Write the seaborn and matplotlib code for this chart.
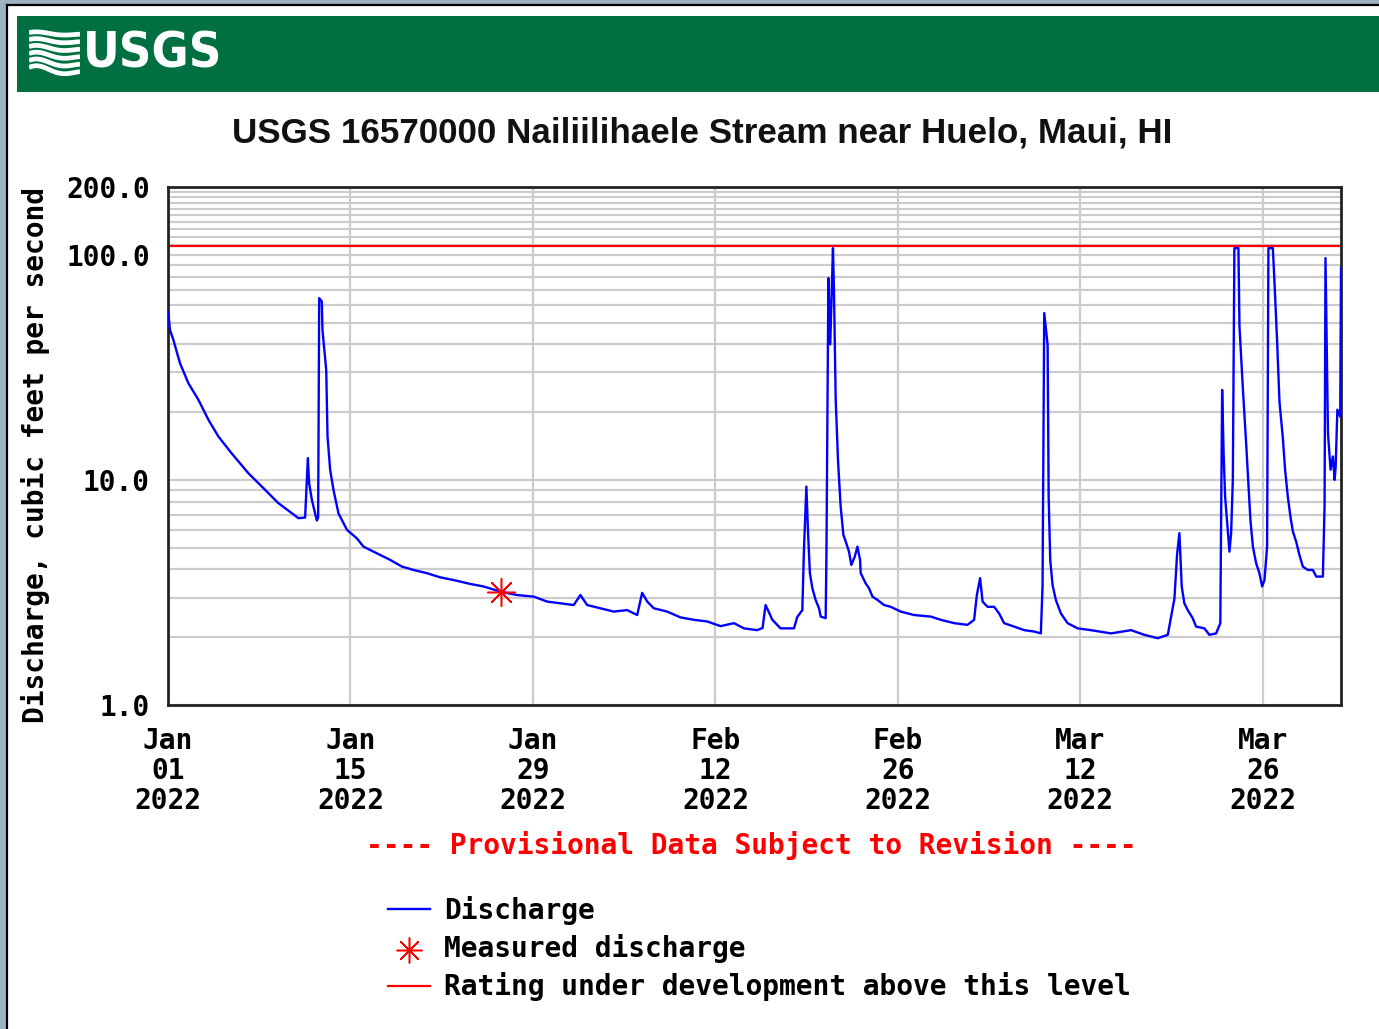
import numpy as np
import pandas as pd
import matplotlib
matplotlib.use("Agg")
import matplotlib.pyplot as plt
from matplotlib import font_manager
from matplotlib.font_manager import FontProperties
from matplotlib.patches import Rectangle
from matplotlib.lines import Line2D
from matplotlib.ticker import FixedLocator, NullFormatter
import seaborn as sns

# ---------------------------------------------------------------- data
# Instantaneous discharge, days after 2022-01-01 00:00 and cubic feet per second
day_offset = [
    0.02, 0.15, 0.41, 0.92, 1.56, 2.33, 3.10, 3.86, 4.89, 6.17, 7.20, 8.47, 10.01, 10.52,
    10.73, 10.83, 11.04, 11.29, 11.42, 11.52, 11.60, 11.80, 11.85, 12.14, 12.24, 12.44,
    12.70, 13.08, 13.73, 14.49, 15.00, 16.03, 17.05, 17.95, 18.84, 19.87, 20.89, 21.91,
    23.19, 24.22, 25.50, 26.78, 28.06, 29.09, 30.11, 31.13, 31.64, 32.16, 33.18, 34.20,
    35.23, 36.00, 36.38, 36.77, 37.27, 38.30, 39.32, 40.35, 41.37, 42.40, 43.42, 44.19,
    45.21, 45.62, 45.85, 46.37, 47.00, 48.03, 48.28, 48.67, 48.79, 48.98, 49.10, 49.25,
    49.44, 49.69, 49.95, 50.08, 50.46, 50.52, 50.67, 50.81, 51.02, 51.10, 51.23, 51.41,
    51.61, 51.82, 52.00, 52.25, 52.43, 52.69, 52.90, 53.10, 53.15, 53.53, 53.79, 54.05,
    54.43, 54.94, 55.45, 55.97, 56.22, 57.24, 58.53, 59.29, 60.32, 61.34, 61.85, 62.06,
    62.31, 62.50, 62.88, 63.39, 63.77, 64.15, 64.92, 65.69, 66.46, 66.97, 67.10, 67.23,
    67.49, 67.57, 67.69, 67.87, 68.12, 68.51, 69.02, 69.79, 70.81, 72.35, 73.89, 74.91,
    75.94, 76.71, 77.22, 77.42, 77.60, 77.78, 77.98, 78.24, 78.62, 78.88, 79.52, 79.90,
    80.42, 80.74, 80.88, 81.00, 81.11, 81.31, 81.44, 81.57, 81.70, 81.82, 82.13, 82.21,
    82.47, 82.72, 82.90, 83.05, 83.24, 83.49, 83.74, 83.95, 84.13, 84.33, 84.43, 84.77,
    84.90, 85.10, 85.28, 85.54, 85.71, 85.92, 86.12, 86.31, 86.56, 86.81, 87.07, 87.46,
    87.84, 88.10, 88.61, 88.74, 88.81, 88.92, 89.00, 89.20, 89.38, 89.51, 89.59, 89.72,
    89.94, 90.00,
]
discharge_cfs = [
    56.0, 46.4, 41.9, 33.0, 26.9, 22.7, 18.5, 15.6, 13.1, 10.7, 9.34, 7.88, 6.76, 6.80,
    12.5, 9.65, 8.14, 7.10, 6.60, 6.80, 64.2, 62.0, 46.4, 30.8, 15.6, 11.1,
    9.00, 7.10, 6.00, 5.50, 5.05, 4.72, 4.41, 4.12, 3.98, 3.85, 3.69, 3.59,
    3.45, 3.36, 3.19, 3.08, 3.03, 2.88, 2.83, 2.78, 3.08, 2.78, 2.69, 2.60,
    2.64, 2.51, 3.15, 2.88, 2.69, 2.60, 2.45, 2.39, 2.35, 2.24, 2.31, 2.19,
    2.15, 2.20, 2.78, 2.39, 2.19, 2.19, 2.46, 2.64, 4.80, 9.34, 5.99, 3.85,
    3.30, 2.93, 2.69, 2.47, 2.43, 4.72, 78.8, 40.0, 107.0, 67.5, 22.7, 12.1,
    7.61, 5.70, 5.32, 4.80, 4.19, 4.56, 5.05, 4.41, 3.85, 3.47, 3.30, 3.03,
    2.93, 2.78, 2.73, 2.64, 2.60, 2.51, 2.47, 2.39, 2.31, 2.27, 2.39, 3.08,
    3.66, 2.88, 2.73, 2.73, 2.55, 2.31, 2.23, 2.15, 2.12, 2.08, 3.36, 55.1,
    39.8, 8.41, 4.41, 3.41, 2.93, 2.55, 2.31, 2.19, 2.15, 2.08, 2.15, 2.05,
    1.98, 2.05, 2.97, 4.64, 5.80, 3.36, 2.83, 2.64, 2.43, 2.23, 2.19, 2.05,
    2.08, 2.31, 25.1, 12.7, 8.41, 5.99, 4.80, 5.80, 10.0, 107.0, 107.0, 48.0,
    25.5, 14.6, 9.51, 6.63, 5.05, 4.26, 3.85, 3.36, 3.59, 5.05, 107.0, 107.0,
    74.8, 41.0, 22.2, 15.3, 11.1, 8.41, 6.87, 5.89, 5.32, 4.64, 4.12, 3.98,
    3.98, 3.72, 3.72, 7.74, 96.7, 33.0, 16.1, 11.1, 12.7, 10.0, 11.4, 20.5,
    19.1, 87.3,
]

# Field measurement
measured_day = [25.58]
measured_cfs = [3.17]

# Rating curve not yet developed above this discharge
rating_limit_cfs = 109.0

ytick_values = [1, 10, 100, 200]
ytick_labels = ["1.0", "10.0", "100.0", "200.0"]
ygrid_minor = [2, 3, 4, 5, 6, 7, 8, 9, 20, 30, 40, 50, 60, 70, 80, 90,
               110, 120, 130, 140, 150, 160, 170, 180, 190]
xtick_dates = ["2022-01-01", "2022-01-15", "2022-01-29", "2022-02-12",
               "2022-02-26", "2022-03-12", "2022-03-26"]
xtick_labels = ["Jan\n01\n2022", "Jan\n15\n2022", "Jan\n29\n2022", "Feb\n12\n2022",
                "Feb\n26\n2022", "Mar\n12\n2022", "Mar\n26\n2022"]
x_start, x_end = "2022-01-01", "2022-04-01"

station_title = "USGS 16570000 Nailiilihaele Stream near Huelo, Maui, HI"
provisional_note = "---- Provisional Data Subject to Revision ----"
legend_labels = ["Discharge", "Measured discharge", "Rating under development above this level"]
y_label = "Discharge, cubic feet per second"

# ---------------------------------------------------------------- fonts
def condensed_bold():
    """A condensed/narrow bold face if one is installed."""
    for f in font_manager.fontManager.ttflist:
        fn = f.fname.lower()
        heavy = (f.weight == "bold") or (isinstance(f.weight, int) and f.weight >= 600)
        upright = "italic" not in fn and "oblique" not in fn
        if ("condensed" in fn or "narrow" in fn) and heavy and upright:
            return FontProperties(fname=f.fname)
    return FontProperties(family="Liberation Sans", weight="bold")


LOGO_FONT = condensed_bold()
MONO = dict(family="DejaVu Sans Mono", weight="bold", size=20.1)

# ---------------------------------------------------------------- frame
W, H = 1379, 1029
fig = plt.figure(figsize=(W / 100, H / 100), dpi=100, facecolor="white")
renderer = fig.canvas.get_renderer()


def fx(px):
    return px / W


def fy(py):
    return 1 - py / H


def fit_width(txt, target_px):
    """Scale a text's font size so its rendered width is target_px."""
    w = txt.get_window_extent(renderer).width
    txt.set_fontsize(txt.get_fontsize() * target_px / w)


# window chrome around the page
fig.patches.append(Rectangle((0, 0), fx(6), 1, transform=fig.transFigure,
                             facecolor="#9fb0c2", edgecolor="none", zorder=0))
fig.patches.append(Rectangle((0, fy(4)), 1, 4 / H, transform=fig.transFigure,
                             facecolor="#9fb0c2", edgecolor="none", zorder=0))
fig.lines.append(Line2D([fx(7), fx(7)], [0, fy(5)], transform=fig.transFigure,
                        color="black", lw=1.6))
fig.lines.append(Line2D([fx(7), 1], [fy(5), fy(5)], transform=fig.transFigure,
                        color="black", lw=1.6))

# green banner
fig.patches.append(Rectangle((fx(17), fy(92)), 1 - fx(17), 76 / H, transform=fig.transFigure,
                             facecolor="#006F41", edgecolor="none", zorder=1))

# wave mark
logo_ax = fig.add_axes([fx(29), fy(77), fx(80) - fx(29), 48 / H], zorder=3)
logo_ax.patch.set_alpha(0)
logo_ax.set_xlim(0, 1)
logo_ax.set_ylim(0, 1)
logo_ax.axis("off")
tt = np.linspace(0, 1, 80)
for k in range(6):
    base = 0.12 + 0.155 * k
    yy = base + 0.11 * np.sin(2 * np.pi * (tt * 0.85 + 0.1)) * (1.2 - tt) * (1 - 0.12 * k)
    logo_ax.plot(tt, yy, color="white", lw=3.4, solid_capstyle="butt")
logo_txt = fig.text(fx(83), fy(53), "USGS", color="white", fontproperties=LOGO_FONT,
                    ha="left", va="center", zorder=3)
logo_txt.set_fontsize(40)
fit_width(logo_txt, 139)

# station title
title_txt = fig.text(fx(702), fy(133), station_title, fontsize=25, family="Liberation Sans",
                     fontweight="bold", ha="center", va="center", color="#111111")
fit_width(title_txt, 939)

# ---------------------------------------------------------------- chart
ax = fig.add_axes([fx(168), fy(705), fx(1341) - fx(168), (705 - 187) / H])
ax.set_facecolor("white")

base_date = pd.Timestamp("2022-01-01")
flow = pd.DataFrame({
    "time": base_date + pd.to_timedelta(day_offset, unit="D"),
    "discharge": discharge_cfs,
})
meas = pd.DataFrame({
    "time": base_date + pd.to_timedelta(measured_day, unit="D"),
    "discharge": measured_cfs,
})

sns.lineplot(data=flow, x="time", y="discharge", ax=ax, color="#0000FF",
             lw=1.7, estimator=None, legend=False, zorder=3)
flow_line = ax.lines[-1]
limit_line = ax.axhline(rating_limit_cfs, color="#FF0000", lw=1.6, zorder=2)
sns.scatterplot(data=meas, x="time", y="discharge", ax=ax, marker=(8, 2, 0),
                color="#FF0000", s=400, linewidth=1.1, legend=False, zorder=4)
meas_pts = ax.collections[-1]

ax.set_yscale("log")
ax.set_ylim(1, 200)
ax.set_xlim(pd.Timestamp(x_start), pd.Timestamp(x_end))

ax.set_yticks(ytick_values)
ax.set_yticklabels(ytick_labels, **MONO)
ax.yaxis.set_minor_locator(FixedLocator(ygrid_minor))
ax.yaxis.set_minor_formatter(NullFormatter())
ax.set_xticks(pd.to_datetime(xtick_dates))
ax.set_xticklabels(xtick_labels, **MONO)
for lbl in ax.get_xticklabels():
    lbl.set_linespacing(1.1)

ax.tick_params(axis="both", which="both", length=0)
ax.tick_params(axis="y", pad=13)
ax.tick_params(axis="x", pad=15.5)

ax.grid(True, axis="x", which="major", color="#cccccc", lw=1.6)
ax.grid(True, axis="y", which="both", color="#cccccc", lw=1.6)
ax.set_axisbelow(True)
ax.set_xlabel("")
ax.set_ylabel("")
for sp in ax.spines.values():
    sp.set_color("#222222")
    sp.set_linewidth(2.0)

fig.text(fx(36), fy(455), y_label, rotation=90, ha="center", va="center", **MONO)
fig.text(fx(751), fy(846), provisional_note, ha="center", va="center",
         color="#FF0000", **MONO)

fig.legend([flow_line, meas_pts, limit_line], legend_labels, loc="upper left",
           bbox_to_anchor=(fx(388), fy(896)), frameon=False, borderpad=0,
           borderaxespad=0, handlelength=1.5, handletextpad=0.5,
           labelspacing=0.33, prop=MONO, scatterpoints=1, markerscale=0.9)

fig.savefig("out.png", dpi=100, facecolor="white")
